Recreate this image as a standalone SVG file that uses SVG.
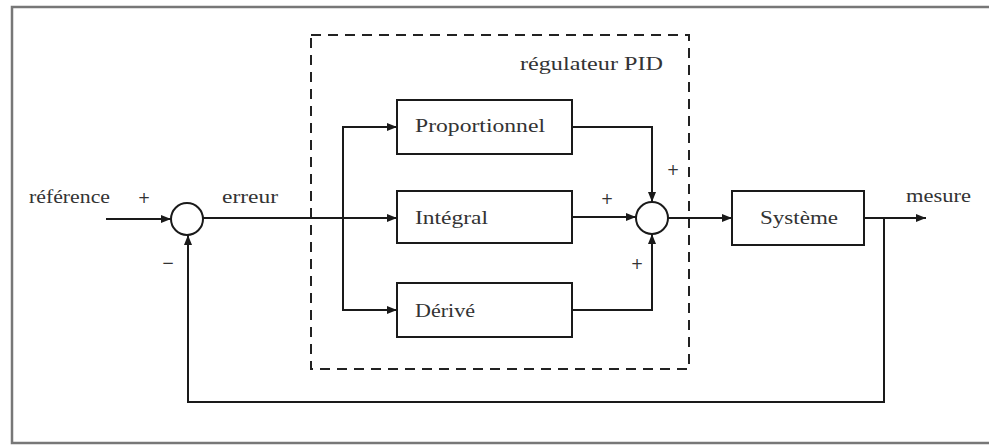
<svg xmlns="http://www.w3.org/2000/svg" width="989" height="445" viewBox="0 0 989 445">
<defs>
<marker id="ah" viewBox="0 0 10 8" refX="10" refY="4" markerWidth="10" markerHeight="8" markerUnits="userSpaceOnUse" orient="auto">
<path d="M0,0 L10,4 L0,8 Z" fill="#1a1a1a"/>
</marker>
<style>
.ln{fill:none;stroke:#1a1a1a;stroke-width:2}
.ar{fill:none;stroke:#1a1a1a;stroke-width:2;marker-end:url(#ah)}
.bx{fill:#fff;stroke:#1a1a1a;stroke-width:2}
.t{font-family:"Liberation Serif","DejaVu Serif",serif;font-size:18px;fill:#333}
.s{font-family:"DejaVu Sans","Liberation Sans",sans-serif;font-size:15px;fill:#333;text-anchor:middle}
</style>
</defs>
<rect width="989" height="445" fill="#fff"/>
<path d="M989,7 H12 V443 H989" fill="none" stroke="#777" stroke-width="2.5"/>
<g id="pid-box">
<rect x="311" y="35" width="378" height="334" fill="none" stroke="#222" stroke-width="2" stroke-dasharray="10,7"/>
<text class="t" x="520" y="70" textLength="143" lengthAdjust="spacingAndGlyphs">régulateur PID</text>
</g>
<g id="connectors">
<path class="ar" d="M106,219 H171"/>
<path class="ar" d="M884,218 V402 H188 V235"/>
<path class="ln" d="M203,218 H343"/>
<path class="ar" d="M343,218 H397"/>
<path class="ar" d="M343,218 V127 H397"/>
<path class="ar" d="M343,218 V310 H397"/>
<path class="ar" d="M572,127 H652 V202"/>
<path class="ar" d="M572,217 H636"/>
<path class="ar" d="M572,310 H652 V234"/>
<path class="ar" d="M668,218 H732"/>
<path class="ar" d="M864,218 H926"/>
</g>
<g id="sum1">
<circle class="bx" cx="187" cy="219" r="16"/>
</g>
<g id="sum2">
<circle class="bx" cx="652" cy="218" r="16"/>
</g>
<g id="proportionnel">
<rect class="bx" x="397" y="100" width="175" height="54"/>
<text class="t" x="415" y="132" textLength="130" lengthAdjust="spacingAndGlyphs">Proportionnel</text>
</g>
<g id="integral">
<rect class="bx" x="397" y="191" width="175" height="52"/>
<text class="t" x="415" y="224" textLength="73" lengthAdjust="spacingAndGlyphs">Intégral</text>
</g>
<g id="derive">
<rect class="bx" x="397" y="283" width="175" height="54"/>
<text class="t" x="415" y="317" textLength="60" lengthAdjust="spacingAndGlyphs">Dérivé</text>
</g>
<g id="systeme">
<rect class="bx" x="732" y="191" width="132" height="54"/>
<text class="t" x="760" y="224" textLength="78" lengthAdjust="spacingAndGlyphs">Système</text>
</g>
<g id="labels">
<text class="t" x="29" y="203" textLength="81" lengthAdjust="spacingAndGlyphs">référence</text>
<text class="t" x="222" y="203" textLength="56" lengthAdjust="spacingAndGlyphs">erreur</text>
<text class="t" x="906" y="202" textLength="65" lengthAdjust="spacingAndGlyphs">mesure</text>
<text class="s" x="144" y="203">+</text>
<text class="s" x="168" y="268">−</text>
<text class="s" x="673" y="175">+</text>
<text class="s" x="607" y="204">+</text>
<text class="s" x="637" y="269">+</text>
</g>
</svg>
